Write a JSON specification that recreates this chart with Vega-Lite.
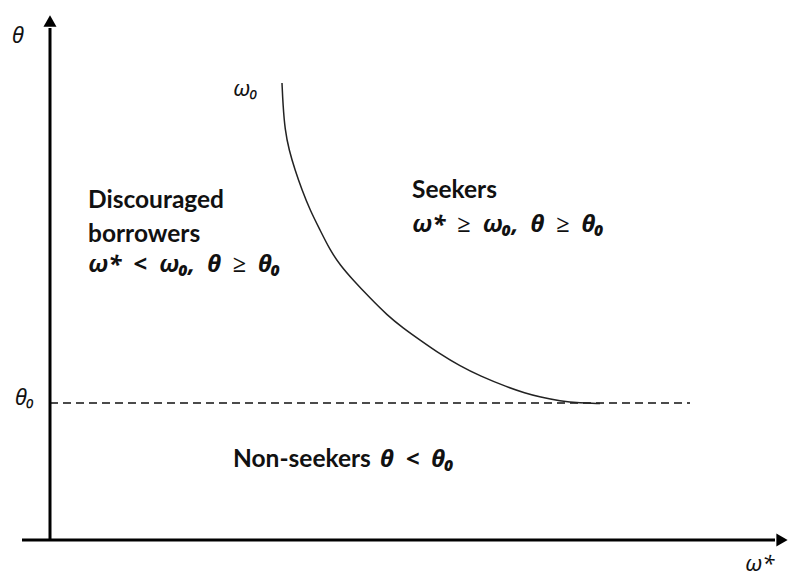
{
  "$schema": "https://vega.github.io/schema/vega-lite/v6.json",
  "width": 790,
  "height": 578,
  "autosize": {"type": "fit", "contains": "padding"},
  "padding": 0,
  "background": "white",
  "config": {"view": {"stroke": null}},
  "datasets": {
    "axes": [
      {"name": "omega-axis", "x": -2.8, "y": 0, "x2": 72.5, "y2": 0},
      {"name": "theta-axis", "x": 0, "y": 0, "x2": 0, "y2": 51.2}
    ],
    "threshold": [
      {"x": 0, "y": 13.7, "x2": 64, "y2": 13.7}
    ],
    "arrowsRight": [{"x": 73.2, "y": 0}],
    "arrowsUp": [{"x": 0, "y": 51.9}],
    "curve": [
      {"x": 23.2, "y": 45.7},
      {"x": 23.3, "y": 43.5},
      {"x": 23.5, "y": 41.0},
      {"x": 23.9, "y": 39.0},
      {"x": 24.5, "y": 37.0},
      {"x": 25.2, "y": 35.0},
      {"x": 26.0, "y": 33.0},
      {"x": 27.0, "y": 31.0},
      {"x": 28.0, "y": 29.0},
      {"x": 29.0, "y": 27.5},
      {"x": 30.3, "y": 26.0},
      {"x": 32.0, "y": 24.2},
      {"x": 33.7, "y": 22.5},
      {"x": 35.3, "y": 21.2},
      {"x": 37.0, "y": 20.0},
      {"x": 39.0, "y": 18.6},
      {"x": 41.0, "y": 17.4},
      {"x": 43.0, "y": 16.4},
      {"x": 45.7, "y": 15.3},
      {"x": 47.5, "y": 14.7},
      {"x": 49.0, "y": 14.3},
      {"x": 51.0, "y": 13.9},
      {"x": 53.0, "y": 13.7},
      {"x": 55.0, "y": 13.65}
    ],
    "sansLabels": [
      {"x": 3.8, "y": 33.2, "text": "Discouraged"},
      {"x": 3.8, "y": 29.8, "text": "borrowers"},
      {"x": 36.2, "y": 34.2, "text": "Seekers"},
      {"x": 18.3, "y": 7.3, "text": "Non-seekers"}
    ],
    "mathLabels": [
      {"x": 3.8, "y": 26.8, "text": "ω*\u2002<\u2002ω₀,\u2002θ\u2002≥\u2002θ₀"},
      {"x": 36.2, "y": 30.8, "text": "ω*\u2002≥\u2002ω₀,\u2002θ\u2002≥\u2002θ₀"},
      {"x": 33.0, "y": 7.3, "text": "θ\u2002<\u2002θ₀"}
    ],
    "axisLabels": [
      {"x": -3.8, "y": 49.7, "text": "θ"},
      {"x": -3.5, "y": 13.5, "text": "θ₀"},
      {"x": 18.3, "y": 44.4, "text": "ω₀"},
      {"x": 69.5, "y": -3.1, "text": "ω*"}
    ]
  },
  "encoding": {
    "x": {"field": "x", "type": "quantitative", "scale": {"domain": [-5, 74], "nice": false, "zero": false}, "axis": null},
    "y": {"field": "y", "type": "quantitative", "scale": {"domain": [-3.8, 54], "nice": false, "zero": false}, "axis": null}
  },
  "layer": [
    {
      "data": {"name": "threshold"},
      "mark": {"type": "rule", "color": "#111", "strokeWidth": 1.5, "strokeDash": [8, 5]},
      "encoding": {"x2": {"field": "x2"}, "y2": {"field": "y2"}}
    },
    {
      "data": {"name": "axes"},
      "mark": {"type": "rule", "color": "#000", "strokeWidth": 3},
      "encoding": {"x2": {"field": "x2"}, "y2": {"field": "y2"}}
    },
    {
      "data": {"name": "arrowsRight"},
      "mark": {"type": "point", "shape": "triangle-right", "filled": true, "color": "#000", "size": 170, "opacity": 1}
    },
    {
      "data": {"name": "arrowsUp"},
      "mark": {"type": "point", "shape": "triangle-up", "filled": true, "color": "#000", "size": 170, "opacity": 1}
    },
    {
      "data": {"name": "curve"},
      "mark": {"type": "line", "color": "#222", "strokeWidth": 1.5, "interpolate": "basis"},
      "encoding": {"order": {"field": "y", "type": "quantitative", "sort": "descending"}}
    },
    {
      "data": {"name": "sansLabels"},
      "mark": {"type": "text", "font": "Lato", "fontWeight": "bold", "fontSize": 24.5, "align": "left", "baseline": "alphabetic", "color": "#111"},
      "encoding": {"text": {"field": "text"}}
    },
    {
      "data": {"name": "mathLabels"},
      "mark": {"type": "text", "font": "Noto Sans", "fontWeight": "bold", "fontStyle": "italic", "fontSize": 24, "align": "left", "baseline": "alphabetic", "color": "#111"},
      "encoding": {"text": {"field": "text"}}
    },
    {
      "data": {"name": "axisLabels"},
      "mark": {"type": "text", "font": "Noto Sans", "fontStyle": "italic", "fontSize": 22, "align": "left", "baseline": "alphabetic", "color": "#111"},
      "encoding": {"text": {"field": "text"}}
    }
  ]
}
